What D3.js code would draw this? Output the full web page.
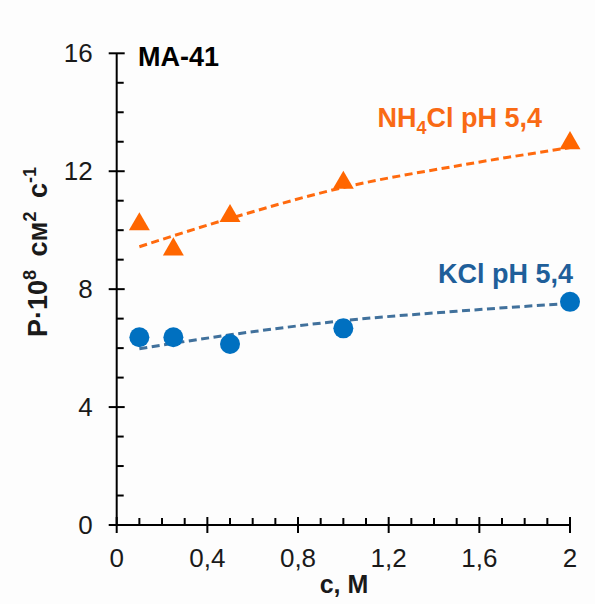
<!DOCTYPE html>
<html>
<head>
<meta charset="utf-8">
<script src="https://cdn.jsdelivr.net/npm/d3@7"></script>
<style>
  html, body { margin: 0; padding: 0; background: #fdfdfd; }
  svg { display: block; font-family: "Liberation Sans", Arial, sans-serif; }
</style>
</head>
<body>
<svg id="chart" width="595" height="604"></svg>
<script>
// Concentration of the solution, M
const conc = [0.1, 0.25, 0.5, 1.0, 2.0];
// Diffusion permeability P·10^8, cm²/s, membrane МА-41
const nh4clP = [10.2, 9.35, 10.48, 11.61, 12.95];
const kclP = [6.37, 6.37, 6.14, 6.67, 7.57];

// Trend curves, sampled along the c range
const trendC = [0.1, 0.5, 1.0, 1.5, 2.0];
const nh4clTrend = [9.44, 10.40, 11.45, 12.18, 12.80];
const kclTrend = [5.98, 6.45, 6.93, 7.25, 7.52];

// Axis ticks
const xMajor = [0, 0.4, 0.8, 1.2, 1.6, 2.0];
const xMinor = d3.range(0, 21).map(i => i / 10).filter(v => Math.round(v * 10) % 4 !== 0);
const yMajor = [0, 4, 8, 12, 16];
const yMinor = d3.range(0, 17).filter(v => v % 4 !== 0);

const colors = {
  nh4Mark: "#ff6600", nh4Line: "#ff6a0e", nh4Text: "#f96a14",
  kclMark: "#0070c0", kclLine: "#41719c", kclText: "#1f5f9a",
  axis: "#000000", text: "#1a1a1a"
};

const svg = d3.select("#chart");
const x = d3.scaleLinear().domain([0, 2]).range([116.7, 570]);
const y = d3.scaleLinear().domain([0, 16]).range([525, 53.3]);

const fmt = v => (v === 0 || v === 2) ? String(v) : d3.format(".1f")(v).replace(".", ",");

// Y axis: line, major ticks crossing, minor ticks inside
const yAxisG = svg.append("g").attr("transform", `translate(${x(0)},0)`);
yAxisG.append("line").attr("y1", y(0)).attr("y2", y(16))
  .attr("stroke", colors.axis).attr("stroke-width", 2);
yAxisG.selectAll(".ymaj").data(yMajor).join("line")
  .attr("x1", -8).attr("x2", 8).attr("y1", d => y(d)).attr("y2", d => y(d))
  .attr("stroke", colors.axis).attr("stroke-width", 2);
yAxisG.selectAll(".ymin").data(yMinor).join("line")
  .attr("x1", 0).attr("x2", 7).attr("y1", d => y(d)).attr("y2", d => y(d))
  .attr("stroke", colors.axis).attr("stroke-width", 2);
yAxisG.selectAll(".ylab").data(yMajor).join("text")
  .attr("x", -24).attr("y", d => y(d)).attr("dy", "0.35em")
  .attr("text-anchor", "end").attr("font-size", 26).attr("fill", colors.text)
  .text(d => d);

// X axis: line, major ticks crossing, minor ticks inside
const xAxisG = svg.append("g").attr("transform", `translate(0,${y(0)})`);
xAxisG.append("line").attr("x1", x(0)).attr("x2", x(2))
  .attr("stroke", colors.axis).attr("stroke-width", 2);
xAxisG.selectAll(".xmaj").data(xMajor).join("line")
  .attr("x1", d => x(d)).attr("x2", d => x(d)).attr("y1", -8).attr("y2", 8)
  .attr("stroke", colors.axis).attr("stroke-width", 2);
xAxisG.selectAll(".xmin").data(xMinor).join("line")
  .attr("x1", d => x(d)).attr("x2", d => x(d)).attr("y1", -7).attr("y2", 0)
  .attr("stroke", colors.axis).attr("stroke-width", 2);
xAxisG.selectAll(".xlab").data(xMajor).join("text")
  .attr("x", d => x(d)).attr("y", 42)
  .attr("text-anchor", "middle").attr("font-size", 26).attr("fill", colors.text)
  .text(fmt);

// Axis titles
svg.append("text").attr("x", 344).attr("y", 593)
  .attr("text-anchor", "middle").attr("font-size", 25).attr("font-weight", "bold")
  .attr("fill", colors.text).text("с, М");

const yt = svg.append("text")
  .attr("transform", "translate(46.5,337) rotate(-90)")
  .attr("font-size", 27).attr("font-weight", "bold").attr("fill", colors.text);
yt.append("tspan").text("P·10");
yt.append("tspan").attr("dy", -11).attr("font-size", 18).text("8");
yt.append("tspan").attr("dy", 11).attr("dx", 6).text(" см");
yt.append("tspan").attr("dy", -11).attr("font-size", 18).text("2");
yt.append("tspan").attr("dy", 11).attr("dx", 6).text(" с");
yt.append("tspan").attr("dy", -11).attr("font-size", 18).text("-1");

// Trend curves
const trendLine = vals => d3.line()
  .x((d, i) => x(trendC[i])).y(d => y(d))
  .curve(d3.curveMonotoneX)(vals);

svg.append("path").attr("d", trendLine(nh4clTrend))
  .attr("fill", "none").attr("stroke", colors.nh4Line).attr("stroke-width", 3)
  .attr("stroke-dasharray", "8,4.5");
svg.append("path").attr("d", trendLine(kclTrend))
  .attr("fill", "none").attr("stroke", colors.kclLine).attr("stroke-width", 3)
  .attr("stroke-dasharray", "8,4.5");

// Markers
const tri = d3.symbol().type(d3.symbolTriangle).size(190);
svg.selectAll(".tri").data(conc).join("path")
  .attr("d", tri)
  .attr("transform", (d, i) => `translate(${x(d)},${y(nh4clP[i])})`)
  .attr("fill", colors.nh4Mark);

svg.selectAll(".dot").data(conc).join("circle")
  .attr("cx", d => x(d)).attr("cy", (d, i) => y(kclP[i])).attr("r", 10)
  .attr("fill", colors.kclMark);

// Series labels and membrane name
const nh = svg.append("text").attr("x", 542).attr("y", 127)
  .attr("text-anchor", "end").attr("font-size", 27).attr("font-weight", "bold")
  .attr("fill", colors.nh4Text);
nh.append("tspan").text("NH");
nh.append("tspan").attr("dy", 7).attr("font-size", 18).text("4");
nh.append("tspan").attr("dy", -7).text("Cl pH 5,4");

svg.append("text").attr("x", 573).attr("y", 283)
  .attr("text-anchor", "end").attr("font-size", 27).attr("font-weight", "bold")
  .attr("fill", colors.kclText).text("KCl pH 5,4");

svg.append("text").attr("x", 138).attr("y", 66)
  .attr("font-size", 27).attr("font-weight", "bold")
  .attr("fill", "#000").text("МА-41");
</script>
</body>
</html>
